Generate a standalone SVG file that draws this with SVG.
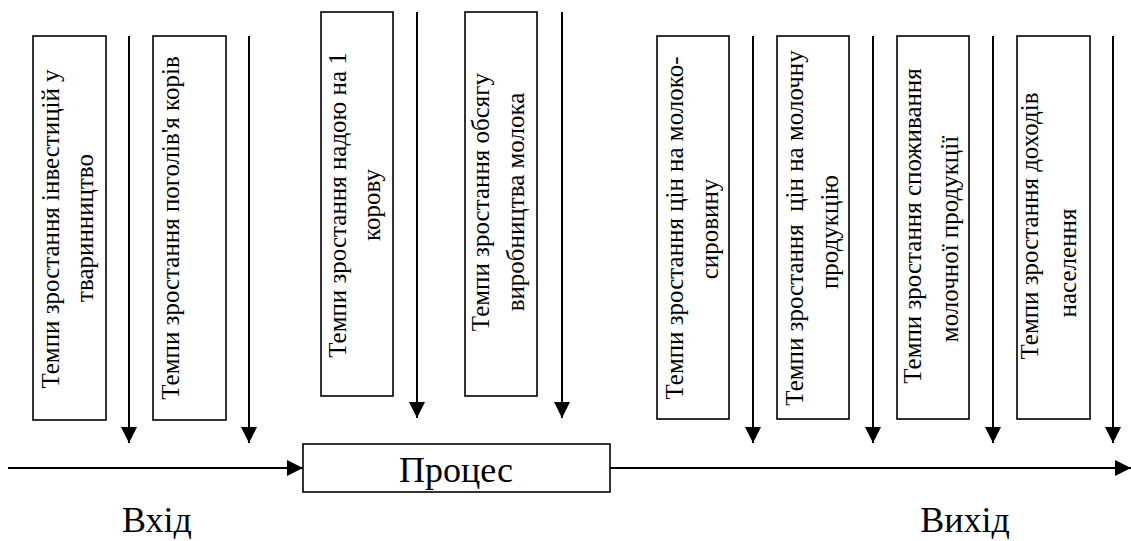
<svg xmlns="http://www.w3.org/2000/svg" width="1131" height="541" viewBox="0 0 1131 541">
<style>
  .box { fill: #fff; stroke: #000; stroke-width: 1.6; }
  .conn { stroke: #000; stroke-width: 2; fill: none; marker-end: url(#arr); }
  text { font-family: 'Liberation Serif', 'Times New Roman', serif; fill: #000; text-anchor: middle; }
  .t { font-size: 25px; }
  .big { font-size: 36px; }
</style>
<defs>
  <marker id="arr" markerUnits="userSpaceOnUse" markerWidth="16" markerHeight="16" viewBox="0 0 16 16" refX="16" refY="8" orient="auto">
    <path d="M0,0 L16,8 L0,16 z" fill="#000"/>
  </marker>
</defs>
<rect width="1131" height="541" fill="#fff"/>
<g id="connectors">
  <line class="conn" x1="129" y1="36" x2="129" y2="443"/>
  <line class="conn" x1="249" y1="36" x2="249" y2="443"/>
  <line class="conn" x1="417" y1="12" x2="417" y2="418"/>
  <line class="conn" x1="562" y1="12" x2="562" y2="418"/>
  <line class="conn" x1="753" y1="36" x2="753" y2="443"/>
  <line class="conn" x1="873" y1="36" x2="873" y2="443"/>
  <line class="conn" x1="993" y1="36" x2="993" y2="443"/>
  <line class="conn" x1="1113" y1="36" x2="1113" y2="443"/>
  <line class="conn" x1="8" y1="468" x2="303" y2="468"/>
  <line class="conn" x1="610" y1="468" x2="1131" y2="468"/>
</g>
<g id="n1">
  <rect class="box" x="33" y="36" width="73" height="384"/>
  <text class="t" transform="translate(59,229) rotate(-90)">Темпи зростання інвестицій у</text>
  <text class="t" transform="translate(93,228) rotate(-90)">тваринництво</text>
</g>
<g id="n2">
  <rect class="box" x="153" y="36" width="73" height="384"/>
  <text class="t" transform="translate(179,228) rotate(-90)">Темпи зростання поголів'я корів</text>
</g>
<g id="n3">
  <rect class="box" x="321" y="12" width="72" height="384"/>
  <text class="t" transform="translate(346,205) rotate(-90)">Темпи зростання надою на 1</text>
  <text class="t" transform="translate(380,205) rotate(-90)">корову</text>
</g>
<g id="n4">
  <rect class="box" x="465" y="12" width="72" height="384"/>
  <text class="t" transform="translate(489,202) rotate(-90)">Темпи зростання обсягу</text>
  <text class="t" transform="translate(524,202) rotate(-90)">виробництва молока</text>
</g>
<g id="n5">
  <rect class="box" x="657" y="36" width="72" height="383"/>
  <text class="t" transform="translate(683,228) rotate(-90)">Темпи зростання цін на молоко-</text>
  <text class="t" transform="translate(718,229) rotate(-90)">сировину</text>
</g>
<g id="n6">
  <rect class="box" x="777" y="36" width="72" height="383"/>
  <text class="t" transform="translate(803,228) rotate(-90)" xml:space="preserve">Темпи зростання  цін на молочну</text>
  <text class="t" transform="translate(838,232) rotate(-90)">продукцію</text>
</g>
<g id="n7">
  <rect class="box" x="897" y="36" width="72" height="383"/>
  <text class="t" transform="translate(921,226) rotate(-90)">Темпи зростання споживання</text>
  <text class="t" transform="translate(958,239) rotate(-90)">молочної продукції</text>
</g>
<g id="n8">
  <rect class="box" x="1017" y="36" width="73" height="383"/>
  <text class="t" transform="translate(1038,226) rotate(-90)">Темпи зростання доходів</text>
  <text class="t" transform="translate(1076,263) rotate(-90)">населення</text>
</g>
<g id="process">
  <rect class="box" x="303" y="444" width="307" height="48"/>
  <text class="big" x="456" y="482">Процес</text>
</g>
<g id="labels">
  <text class="big" x="157" y="532">Вхід</text>
  <text class="big" x="965" y="532">Вихід</text>
</g>
</svg>
